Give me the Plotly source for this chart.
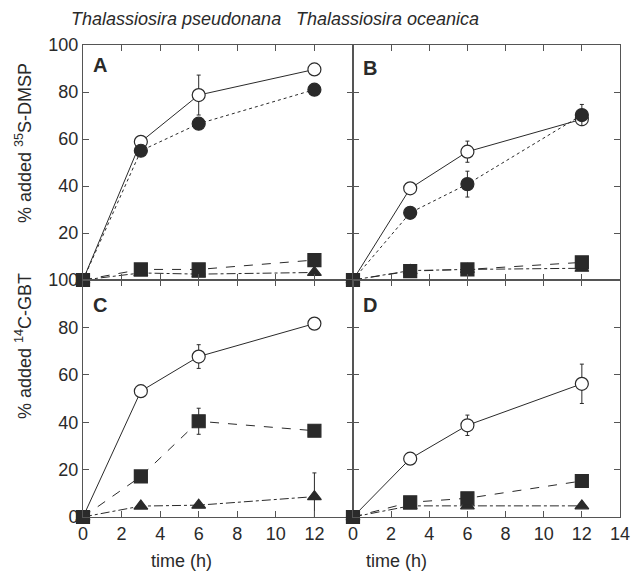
import plotly.graph_objects as go

time = [0, 3, 6, 12]

# Panel A: T. pseudonana, 35S-DMSP
A_open = [0, 58.8, 78.7, 89.6]
A_open_err = [0, 0, 8.5, 0]
A_fill = [0, 55.0, 66.5, 81.0]
A_fill_err = [0, 0, 0, 0]
A_sq = [0, 4.5, 4.5, 8.5]
A_tri = [0, 3.0, 2.5, 3.2]

# Panel B: T. oceanica, 35S-DMSP
B_open = [0, 39.0, 54.6, 68.4]
B_open_err = [0, 1.5, 4.5, 0]
B_fill = [0, 28.6, 40.8, 70.2]
B_fill_err = [0, 0, 5.5, 4.5]
B_sq = [0, 3.8, 4.5, 7.5]
B_tri = [0, 4.0, 4.5, 5.0]

# Panel C: T. pseudonana, 14C-GBT
C_open = [0, 53.1, 67.7, 81.6]
C_open_err = [0, 0, 5.0, 0]
C_sq = [0, 17.1, 40.4, 36.4]
C_sq_err = [0, 2.0, 5.5, 0]
C_tri = [0, 4.6, 5.0, 8.6]
C_tri_err = [0, 0, 0, 10.0]

# Panel D: T. oceanica, 14C-GBT
D_open = [0, 24.6, 38.7, 56.2]
D_open_err = [0, 0, 4.3, 8.3]
D_sq = [0, 6.2, 7.9, 15.2]
D_tri = [0, 4.7, 4.7, 4.7]

x_ticks = [0, 2, 4, 6, 8, 10, 12, 14]
y_ticks = [0, 20, 40, 60, 80, 100]

INK = "#2a2a2a"
FONT = "Liberation Sans, Arial, sans-serif"

fig = go.Figure()


def add(x, y, err, symbol, filled, dash, xa, ya, size=13):
    marker = dict(symbol=symbol, size=size,
                  color=INK if filled else "white",
                  line=dict(color=INK, width=1.2))
    tr = go.Scatter(x=x, y=y, mode="lines+markers", xaxis=xa, yaxis=ya,
                    line=dict(color=INK, width=1, dash=dash),
                    marker=marker, cliponaxis=False, showlegend=False)
    if err is not None:
        tr.error_y = dict(type="data", array=err, visible=True,
                          color=INK, thickness=1, width=2)
    fig.add_trace(tr)


# panel A (x, y)
add(time, A_open, A_open_err, "circle", False, "solid", "x", "y")
add(time, A_fill, A_fill_err, "circle", True, "dot", "x", "y")
add(time, A_tri, None, "triangle-up", True, "dashdot", "x", "y", 12)
add(time, A_sq, None, "square", True, "dash", "x", "y")
# panel B (x2, y2)
add(time, B_open, B_open_err, "circle", False, "solid", "x2", "y2")
add(time, B_fill, B_fill_err, "circle", True, "dot", "x2", "y2")
add(time, B_tri, None, "triangle-up", True, "dashdot", "x2", "y2", 12)
add(time, B_sq, None, "square", True, "dash", "x2", "y2")
# panel C (x3, y3)
add(time, C_open, C_open_err, "circle", False, "solid", "x3", "y3")
add(time, C_tri, C_tri_err, "triangle-up", True, "dashdot", "x3", "y3", 12)
add(time, C_sq, C_sq_err, "square", True, "dash", "x3", "y3")
# panel D (x4, y4)
add(time, D_open, D_open_err, "circle", False, "solid", "x4", "y4")
add(time, D_tri, None, "triangle-up", True, "dashdot", "x4", "y4", 12)
add(time, D_sq, None, "square", True, "dash", "x4", "y4")

xsplit = 275 / 547
ysplit = 237 / 472

axis_common = dict(showline=True, linecolor="#555", linewidth=1, mirror="ticks",
                   ticks="inside", ticklen=6, tickcolor="#555", tickwidth=1,
                   showgrid=False, zeroline=False,
                   tickfont=dict(family=FONT, size=18, color=INK))

xt_left = [str(v) if v != 14 else " " for v in x_ticks]
xt_right = [str(v) for v in x_ticks]
yt_top = [str(v) if v != 0 else " " for v in y_ticks]
yt_bot = [str(v) for v in y_ticks]
blank_x = [" "] * len(x_ticks)
blank_y = [" "] * len(y_ticks)

fig.update_layout(
    width=642, height=573,
    margin=dict(l=83, r=12, t=45, b=56),
    paper_bgcolor="white", plot_bgcolor="white",
    xaxis=dict(domain=[0, xsplit], range=[0, 14], anchor="y", tickvals=x_ticks,
               ticktext=blank_x, **axis_common),
    yaxis=dict(domain=[ysplit, 1], range=[0, 100], anchor="x", tickvals=y_ticks,
               ticktext=yt_top, **axis_common),
    xaxis2=dict(domain=[xsplit, 1], range=[0, 14], anchor="y2", tickvals=x_ticks,
                ticktext=blank_x, **axis_common),
    yaxis2=dict(domain=[ysplit, 1], range=[0, 100], anchor="x2", tickvals=y_ticks,
                ticktext=blank_y, **axis_common),
    xaxis3=dict(domain=[0, xsplit], range=[0, 14], anchor="y3", tickvals=x_ticks,
                ticktext=xt_left, **axis_common),
    yaxis3=dict(domain=[0, ysplit], range=[0, 100], anchor="x3", tickvals=y_ticks,
                ticktext=yt_bot, **axis_common),
    xaxis4=dict(domain=[xsplit, 1], range=[0, 14], anchor="y4", tickvals=x_ticks,
                ticktext=xt_right, **axis_common),
    yaxis4=dict(domain=[0, ysplit], range=[0, 100], anchor="x4", tickvals=y_ticks,
                ticktext=blank_y, **axis_common),
)


def px_ann(text, x, y, size=18, bold=False, italic=False, angle=0, xanchor="center"):
    if bold:
        text = "<b>" + text + "</b>"
    if italic:
        text = "<i>" + text + "</i>"
    fig.add_annotation(text=text, x=(x - 83) / 547, y=(573 - 56 - y) / 472,
                       xref="paper", yref="paper", showarrow=False,
                       xanchor=xanchor, yanchor="middle", textangle=angle,
                       font=dict(family=FONT, size=size, color=INK))


px_ann("Thalassiosira pseudonana", 287, 19, size=18, italic=True, xanchor="right")
px_ann("Thalassiosira oceanica", 298, 19, size=18, italic=True, xanchor="left")
px_ann("A", 100, 65, size=20, bold=True)
px_ann("B", 375, 68, size=20, bold=True)
px_ann("C", 100, 305, size=20, bold=True)
px_ann("D", 375, 305, size=20, bold=True)
px_ann("% added <sup>35</sup>S-DMSP", 22, 143, size=18, angle=-90)
px_ann("% added <sup>14</sup>C-GBT", 22, 346, size=18, angle=-90)
px_ann("time (h)", 183, 561, size=18)
px_ann("time (h)", 402, 561, size=18)

fig.write_html("out.html", config={"displayModeBar": False},
               post_script="document.body.style.margin='0';document.body.style.overflow='hidden';")
